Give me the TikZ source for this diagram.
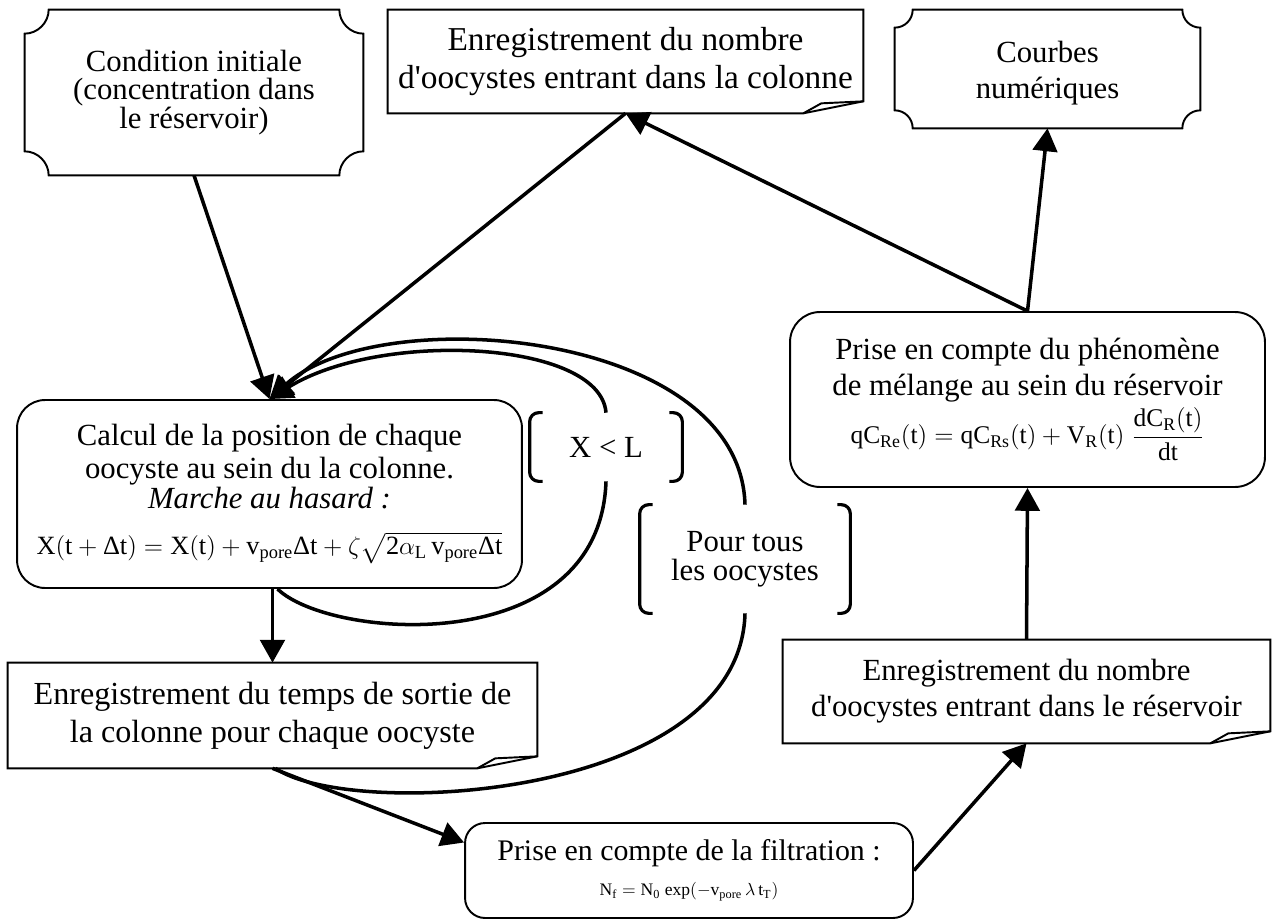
\documentclass[tikz,border=0pt]{standalone}
\usepackage{amsmath}
\usepackage{fontspec}
\setmainfont{Liberation Serif}[Ligatures=TeXOff]
\usetikzlibrary{arrows.meta,calc}
\newcommand{\taille}{\fontsize{17.5}{20.5}\selectfont}
\newcommand{\formule}{\fontsize{15}{18}\selectfont}
\newcommand{\petit}{\fontsize{10}{12}\selectfont}
\newcommand{\Del}{\text{Δ}}
% contour a coins echancres : noeud, rayon, controle
\newcommand{\carte}[3]{%
  \draw[contour] ($(#1.north west)+(#2,0)$) -- ($(#1.north east)+(-#2,0)$)
    .. controls ($(#1.north east)+(-#2,#3)$) and ($(#1.north east)+(-#3,#2)$) .. ($(#1.north east)+(0,#2)$)
    -- ($(#1.south east)+(0,-#2)$)
    .. controls ($(#1.south east)+(-#3,-#2)$) and ($(#1.south east)+(-#2,-#3)$) .. ($(#1.south east)+(-#2,0)$)
    -- ($(#1.south west)+(#2,0)$)
    .. controls ($(#1.south west)+(#2,-#3)$) and ($(#1.south west)+(#3,-#2)$) .. ($(#1.south west)+(0,-#2)$)
    -- ($(#1.north west)+(0,#2)$)
    .. controls ($(#1.north west)+(#3,#2)$) and ($(#1.north west)+(#2,#3)$) .. cycle;}
% contour document (coin plie)
\newcommand{\feuille}[1]{%
  \draw[contour] (#1.south west) -- (#1.north west) -- (#1.north east)
    -- ($(#1.south east)+(0,-12)$) -- ($(#1.south east)+(-60,0)$) -- cycle;
  \draw[contour] ($(#1.south east)+(-60,0)$) -- ($(#1.south east)+(-42,-10)$) -- ($(#1.south east)+(0,-12)$);}
% crochets autour d'une condition
\newcommand{\crochets}[1]{%
  \draw[crochet] ($(#1.north west)+(13,0)$) -- (#1.north west) -- (#1.south west) -- ($(#1.south west)+(13,0)$);
  \draw[crochet] ($(#1.north east)+(-13,0)$) -- (#1.north east) -- (#1.south east) -- ($(#1.south east)+(-13,0)$);}

\begin{document}
\begin{tikzpicture}[x=0.02cm, y=-0.02cm,
  contour/.style={line width=1.1pt},
  texte/.style={align=center, inner sep=0pt, font=\taille},
  arrondi/.style={texte, draw, line width=1.1pt, rounded corners=0.56cm},
  fleche/.style={line width=2pt, -{Triangle[length=13pt, width=14pt]}},
  boucle/.style={line width=2pt},
  crochet/.style={line width=1.8pt, rounded corners=0.18cm}]

\useasboundingbox (0,0) rectangle (1277,922);

% ================= boites du haut =================
\node[texte, font=\fontsize{17.5}{16}\selectfont, minimum width=6.76cm, minimum height=3.3cm] (cond) at (194,92.5)
  {Condition initiale\\(concentration dans\\le réservoir)};
\carte{cond}{24}{13}
\node[texte, font=\fontsize{19}{21.5}\selectfont, minimum width=9.5cm, minimum height=2.06cm] (regcol) at (625.5,61.5)
  {Enregistrement du nombre\\d'oocystes entrant dans la colonne};
\feuille{regcol}
\node[texte, minimum width=6.1cm, minimum height=2.36cm] (courbes) at (1047.5,69)
  {\\[-4pt]Courbes\\numériques};
\carte{courbes}{18}{10}

% ================= colonne =================
\node[arrondi, font=\fontsize{17.5}{19}\selectfont, minimum width=10.1cm, minimum height=3.76cm] (calc) at (269.5,494)
  {Calcul de la position de chaque\\oocyste au sein du la colonne.\\[-2pt]\textit{Marche au hasard :}\\[7pt]
   {\formule$\mathrm{X(t+\Del t) = X(t)+v_{pore}\Del t + \zeta\sqrt{2\alpha_L\, v_{pore}\Del t}}$}};
\node[texte, minimum width=3.04cm, minimum height=1.36cm] (xl) at (606,447) {X < L};
\crochets{xl}
\node[texte, font=\fontsize{17.5}{16.5}\selectfont, minimum width=4.2cm, minimum height=2.16cm] (tous) at (745,559)
  {Pour tous\\les oocystes};
\crochets{tous}
\node[texte, font=\fontsize{18.3}{21.5}\selectfont, minimum width=10.58cm, minimum height=2.1cm] (temps) at (272.5,715.5)
  {Enregistrement du temps de sortie de\\la colonne pour chaque oocyste};
\feuille{temps}
\node[arrondi, font=\fontsize{17}{19}\selectfont, rounded corners=0.4cm, minimum width=8.96cm, minimum height=1.9cm] (filt) at (689,870.5)
  {Prise en compte de la filtration :\\[1pt]
   {\petit$\mathrm{N_f = N_0\ exp(-v_{pore}\,\lambda\, t_T)}$}};

% ================= reservoir =================
\node[texte, minimum width=9.74cm, minimum height=2.06cm] (resv) at (1026.5,691.5)
  {Enregistrement du nombre\\d'oocystes entrant dans le réservoir};
\feuille{resv}
\node[arrondi, rounded corners=0.6cm, minimum width=9.5cm, minimum height=3.5cm] (mel) at (1027.5,399.5)
  {Prise en compte du phénomène\\de mélange au sein du réservoir\\[2pt]
   {\fontsize{14.5}{17}\selectfont$\mathrm{qC_{Re}(t) = qC_{Rs}(t) + V_R(t)\;\dfrac{dC_R(t)}{dt}}$}};

% ================= fleches =================
\draw[fleche] (cond.south) -- (calc.north);
\draw[fleche] (regcol.south) -- (calc.north);
\draw[fleche] (mel.north) -- (regcol.south);
\draw[fleche] (mel.north) -- (courbes.south);
\draw[fleche] (temps.north |- calc.south) -- (temps.north);
\draw[fleche] (temps.south) -- ($(filt.west)+(0,-28)$);
\draw[fleche] (filt.east) -- (resv.south);
\draw[fleche] (resv.north) -- (mel.south);

% boucles
\draw[boucle] ($(calc.south)+(8,0)$) .. controls (330,640) and (600,660) .. (xl.south);
\draw[fleche] (xl.north) .. controls (600,340) and (380,330) .. (calc.north);
\draw[boucle] ($(temps.south)+(3,0)$) .. controls (350,820) and (740,800) .. (tous.south);
\draw[fleche] (tous.north) .. controls (740,330) and (380,300) .. (calc.north);

\end{tikzpicture}
\end{document}
